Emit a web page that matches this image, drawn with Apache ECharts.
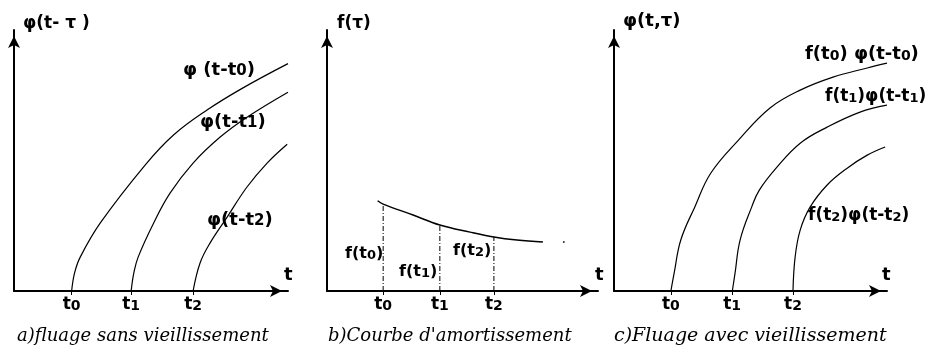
<!DOCTYPE html>
<html><head><meta charset="utf-8">
<script src="https://cdn.jsdelivr.net/npm/echarts@6/dist/echarts.min.js"></script>
<style>html,body{margin:0;padding:0;background:#fff}#c{width:933px;height:353px}</style>
</head><body><div id="c"></div>
<script>
// ---- data (axis units) ----
const subNames = ['0', '1', '2'];
// panel a : fluage sans vieillissement
const tA = [2.15, 4.37, 6.68];
const curveA0 = [[2.15,0],[2.26,0.71],[2.47,1.33],[3.22,2.67],[4.89,4.94],[5.95,6.12],[7.20,7.10],[8.51,7.95],[10.22,8.92]];
const curveA1 = [[4.37,0],[4.47,0.71],[4.63,1.33],[5.21,2.67],[5.82,3.84],[6.68,5.02],[7.69,6.04],[8.69,6.82],[10.22,7.80]];
const curveA2 = [[6.68,0],[6.94,1.10],[7.31,1.88],[7.95,2.90],[8.69,4.08],[9.44,5.02],[10.19,5.76]];
// panel b : courbe d'amortissement
const tB = [2.12, 4.26, 6.30];
const fB = [3.41, 2.59, 2.12];
const curveB = [[1.91,3.54],[2.12,3.41],[3.25,2.98],[4.26,2.59],[5.40,2.31],[6.30,2.12],[7.17,2.00],[8.15,1.92]];
const dotB = [[8.94,1.92]];
// panel c : fluage avec vieillissement
const tC = [2.13, 4.42, 6.70];
const curveC0 = [[2.13,0],[2.25,0.69],[2.50,2.00],[3.03,3.31],[3.62,4.62],[4.66,5.92],[5.84,7.18],[6.97,7.88],[8.20,8.39],[9.48,8.75],[10.22,8.94]];
const curveC1 = [[4.43,0],[4.53,0.69],[4.72,2.00],[5.16,3.31],[5.44,3.96],[6.10,4.86],[6.97,5.80],[7.98,6.43],[9.21,7.02],[10.22,7.29]];
const curveC2 = [[6.70,0],[6.78,1.33],[6.97,2.39],[7.34,3.29],[7.98,4.16],[8.73,4.82],[9.48,5.33],[10.15,5.65]];

const BOLD = 'DejaVu Sans';
const richT = {
  m: {fontSize: 17, fontWeight: 'bold', fontFamily: BOLD, color: '#000', verticalAlign: 'bottom'},
  s: {fontSize: 14, fontWeight: 'bold', fontFamily: BOLD, color: '#000', verticalAlign: 'bottom'}
};
const arrowLine = {show: true, onZero: false, symbol: ['none', 'arrow'], symbolSize: [9, 12], symbolOffset: [0, -6],
  lineStyle: {color: '#000', width: 2}};

function xAx(gi, ticks, max) {
  return {
    type: 'value', gridIndex: gi, min: 0, max: max,
    axisLine: arrowLine,
    axisTick: {show: true, customValues: ticks, length: 4, lineStyle: {color: '#000', width: 1}},
    axisLabel: {show: true, customValues: ticks, margin: 5,
      formatter: function (v) {
        let i = 0, best = 1e9;
        ticks.forEach((t, k) => { if (Math.abs(t - v) < best) { best = Math.abs(t - v); i = k; } });
        return '{m|t}{s|' + subNames[i] + '}';
      }, rich: richT},
    splitLine: {show: false}
  };
}
function yAx(gi) {
  return {
    type: 'value', gridIndex: gi, min: 0, max: 10.24,
    axisLine: arrowLine,
    axisTick: {show: false}, axisLabel: {show: false}, splitLine: {show: false}
  };
}
function curve(gi, data, w) {
  return {type: 'line', xAxisIndex: gi, yAxisIndex: gi, data: data, smooth: 0.4,
    showSymbol: false, silent: true, lineStyle: {color: '#000', width: w || 1.2}};
}
const verticals = tB.map((t, i) => ({
  type: 'line', xAxisIndex: 1, yAxisIndex: 1, data: [[t, 0], [t, fB[i]]], showSymbol: false, silent: true,
  lineStyle: {color: '#000', width: 1, type: [5, 2, 1, 2]}
}));

function lbl(x, y, parts, size, sub) {
  const fs = size || 17;
  const ss = sub || (fs - 3);
  const text = parts.map(p => (p[1] ? '{s|' : '{m|') + p[0] + '}').join('');
  return {type: 'text', left: x, top: y, silent: true,
    style: {text: text, rich: {
      m: {fontSize: fs, fontWeight: 'bold', fontFamily: BOLD, fill: '#000', verticalAlign: 'bottom'},
      s: {fontSize: ss, fontWeight: 'bold', fontFamily: BOLD, fill: '#000', verticalAlign: 'bottom'}
    }}};
}
function caption(x, text, size) {
  return {type: 'text', left: x, top: 327, silent: true,
    style: {text: text, font: 'italic ' + (size || 18) + 'px "DejaVu Serif"', fill: '#000'}};
}

const option = {
  animation: false,
  backgroundColor: '#fff',
  grid: [
    {left: 14, top: 30, width: 274, height: 261},
    {left: 327, top: 30, width: 271, height: 261},
    {left: 614, top: 30, width: 273, height: 261}
  ],
  xAxis: [xAx(0, tA, 10.22), xAx(1, tB, 10.23), xAx(2, tC, 10.22)],
  yAxis: [yAx(0), yAx(1), yAx(2)],
  series: [
    curve(0, curveA0), curve(0, curveA1), curve(0, curveA2),
    curve(1, curveB, 1.5), ...verticals,
    {type: 'scatter', xAxisIndex: 1, yAxisIndex: 1, data: dotB, symbolSize: 2, itemStyle: {color: '#000'}, silent: true},
    curve(2, curveC0), curve(2, curveC1), curve(2, curveC2)
  ],
  graphic: [
    lbl(23, 15, [['φ(t- τ )']]),
    lbl(183, 61, [['φ (t-t'], ['0', 1], [')']], 18),
    lbl(200, 113, [['φ(t-t'], ['1', 1], [')']], 18),
    lbl(207, 211, [['φ(t-t'], ['2', 1], [')']], 18),
    lbl(284, 266, [['t']], 18),
    lbl(337, 15, [['f(τ)']]),
    lbl(345, 246, [['f(t'], ['0', 1], [')']], 16),
    lbl(399, 264, [['f(t'], ['1', 1], [')']], 16),
    lbl(453, 243, [['f(t'], ['2', 1], [')']], 16),
    lbl(595, 266, [['t']], 18),
    lbl(623, 12, [['φ(t,τ)']], 18),
    lbl(805, 45, [['f(t'], ['0', 1], [') φ(t-t'], ['0', 1], [')']], 18, 14),
    lbl(825, 88, [['f(t'], ['1', 1], [')φ(t-t'], ['1', 1], [')']], 17, 13),
    lbl(808, 207, [['f(t'], ['2', 1], [')φ(t-t'], ['2', 1], [')']], 17, 13),
    lbl(882, 266, [['t']], 18),
    caption(17, 'a)fluage sans vieillissement'),
    caption(328, "b)Courbe d'amortissement"),
    caption(614, 'c)Fluage avec vieillissement', 19)
  ]
};
echarts.init(document.getElementById('c')).setOption(option);
</script></body></html>
